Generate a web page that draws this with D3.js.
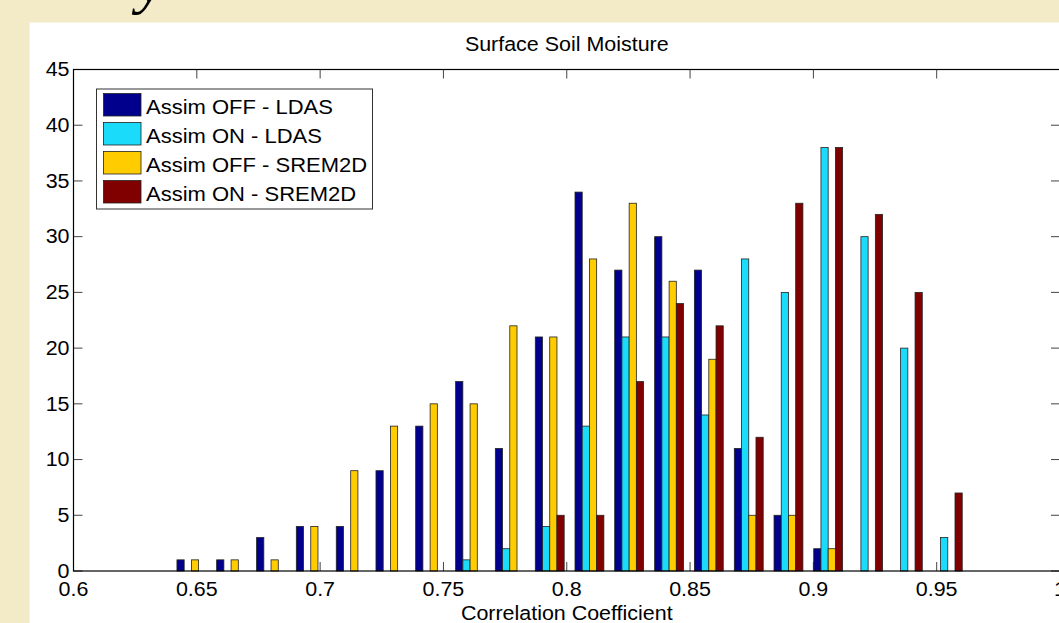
<!DOCTYPE html>
<html>
<head>
<meta charset="utf-8">
<script src="https://cdn.jsdelivr.net/npm/d3@7"></script>
<style>
  body { margin: 0; padding: 0; overflow: hidden; }
  svg { display: block; }
  text { font-family: "Liberation Sans", Arial, Helvetica, sans-serif; fill: #000; }
</style>
</head>
<body>
<svg id="chart" width="1059" height="623"></svg>
<script>
// bin centers of the histogram (correlation coefficient)
const binCenters = [0.6478, 0.6639, 0.6801, 0.6962, 0.7124, 0.7285, 0.7446, 0.7608, 0.7769, 0.7931,
                    0.8092, 0.8253, 0.8415, 0.8576, 0.8738, 0.8899, 0.9060, 0.9222, 0.9383, 0.9545];

const seriesNames = ["Assim OFF - LDAS", "Assim ON - LDAS", "Assim OFF - SREM2D", "Assim ON - SREM2D"];
const seriesColors = ["#00008c", "#1adcfa", "#ffcc00", "#800000"];

// counts per bin, one array per series
const offLdas   = [1, 1, 3, 4, 4, 9, 13, 17, 11, 21, 34, 27, 30, 27, 11, 5, 2, 0, 0, 0];
const onLdas    = [0, 0, 0, 0, 0, 0, 0, 1, 2, 4, 13, 21, 21, 14, 28, 25, 38, 30, 20, 3];
const offSrem   = [1, 1, 1, 4, 9, 13, 15, 15, 22, 21, 28, 33, 26, 19, 5, 5, 2, 0, 0, 0];
const onSrem    = [0, 0, 0, 0, 0, 0, 0, 0, 0, 5, 5, 17, 24, 22, 12, 33, 38, 32, 25, 7];
const series = [offLdas, onLdas, offSrem, onSrem];

const xTicks = [0.6, 0.65, 0.7, 0.75, 0.8, 0.85, 0.9, 0.95, 1];
const yTicks = [0, 5, 10, 15, 20, 25, 30, 35, 40, 45];

const svg = d3.select("#chart");
const W = +svg.attr("width"), H = +svg.attr("height");

const axLeft = 73.5, axRight = 1060, axTop = 69.5, axBottom = 571;
const x = d3.scaleLinear().domain([0.6, 1]).range([axLeft, axRight]);
const y = d3.scaleLinear().domain([0, 45]).range([axBottom, axTop]);

// text helper, glyphs in the picture are a bit wider than tall
function label(g, px, py, str, anchor, size) {
  return g.append("text")
    .attr("transform", `translate(${px},${py}) scale(1.1,1)`)
    .attr("text-anchor", anchor || "start")
    .style("font-size", (size || 19.5) + "px")
    .text(str);
}

// slide background and white figure
svg.append("rect").attr("width", W).attr("height", H).attr("fill", "#f3ebc7");
svg.append("rect").attr("x", 29.5).attr("y", 22.5).attr("width", W).attr("height", H).attr("fill", "#fff");

// piece of the slide heading peeking in at the top
svg.append("text")
  .attr("x", 137).attr("y", 2)
  .style("font-family", "'Liberation Serif', 'Times New Roman', serif")
  .style("font-style", "italic")
  .style("font-size", "62px")
  .text("y");

const g = svg.append("g");

// ticks (inward, drawn under the bars)
const tl = 9;
const ticks = g.append("g").attr("stroke", "#444").attr("stroke-width", 1);
xTicks.forEach(t => {
  ticks.append("line").attr("x1", x(t)).attr("x2", x(t)).attr("y1", axBottom).attr("y2", axBottom - tl);
  ticks.append("line").attr("x1", x(t)).attr("x2", x(t)).attr("y1", axTop).attr("y2", axTop + tl);
});
yTicks.forEach(t => {
  ticks.append("line").attr("x1", axLeft).attr("x2", axLeft + tl).attr("y1", y(t)).attr("y2", y(t));
  ticks.append("line").attr("x1", axRight).attr("x2", axRight - tl).attr("y1", y(t)).attr("y2", y(t));
});

// grouped bars
const step = binCenters[1] - binCenters[0];
const groupW = step * 4 / 5.5;
const barW = groupW / 4;

series.forEach((vals, j) => {
  g.append("g").selectAll("rect")
    .data(vals.map((v, i) => ({ c: binCenters[i], v: v })).filter(d => d.v > 0))
    .enter().append("rect")
    .attr("x", d => x(d.c - groupW / 2 + j * barW))
    .attr("width", d => x(d.c - groupW / 2 + (j + 1) * barW) - x(d.c - groupW / 2 + j * barW))
    .attr("y", d => y(d.v))
    .attr("height", d => y(0) - y(d.v))
    .attr("fill", seriesColors[j])
    .attr("stroke", "#222")
    .attr("stroke-width", 0.8);
});

// axes box
g.append("rect")
  .attr("x", axLeft).attr("y", axTop)
  .attr("width", axRight - axLeft).attr("height", axBottom - axTop)
  .attr("fill", "none").attr("stroke", "#000").attr("stroke-width", 1.2);

// tick labels
xTicks.forEach(t => label(g, x(t), 596, String(t), "middle"));
yTicks.forEach(t => label(g, 69.5, y(t) + 6.7, String(t), "end"));

// title and axis label
label(g, (axLeft + axRight) / 2, 51, "Surface Soil Moisture", "middle");
label(g, (axLeft + axRight) / 2, 620, "Correlation Coefficient", "middle");

// legend
const lg = g.append("g");
lg.append("rect")
  .attr("x", 96.5).attr("y", 89).attr("width", 276).attr("height", 120)
  .attr("fill", "#fff").attr("stroke", "#333").attr("stroke-width", 1);
seriesNames.forEach((name, j) => {
  const ry = 93.5 + j * 29;
  lg.append("rect")
    .attr("x", 103.5).attr("y", ry).attr("width", 37.5).attr("height", 22.5)
    .attr("fill", seriesColors[j]).attr("stroke", "#222").attr("stroke-width", 0.8);
  label(lg, 146, ry + 20, name, "start", 20);
});
</script>
</body>
</html>
